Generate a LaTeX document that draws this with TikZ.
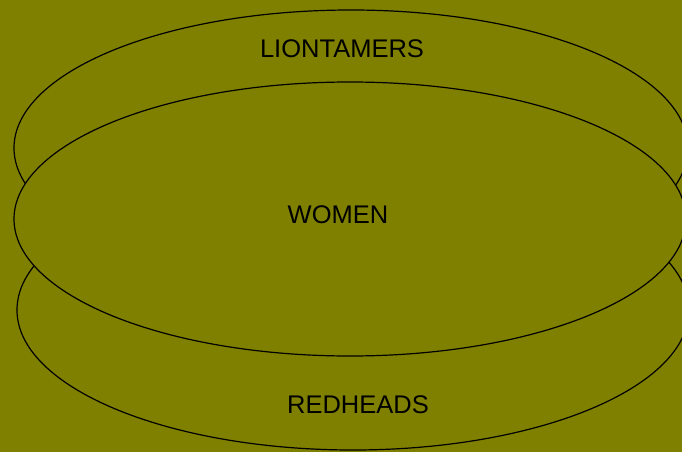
\documentclass[tikz,border=0pt]{standalone}
\usepackage{fontspec}
\setmainfont{Liberation Sans}
\definecolor{olivebg}{HTML}{808000}
\begin{document}
\begin{tikzpicture}[x=1pt,y=-1pt,
  setshape/.style={draw=black,line width=1.2pt},
  setlabel/.style={font=\fontsize{25.5}{25.5}\selectfont,text=black,inner sep=0pt}]
\useasboundingbox (0,0) rectangle (682,452);
\fill[olivebg] (0,0) rectangle (682,452);
\clip (0,0) rectangle (682,452);
\draw[setshape] (351,148) ellipse [x radius=337, y radius=138];
\draw[setshape] (353,310) ellipse [x radius=336, y radius=140];
\filldraw[setshape,fill=olivebg] (350,219) ellipse [x radius=336, y radius=137];
\node[setlabel] (lion) at (342,49) {LIONTAMERS};
\node[setlabel] (women) at (338,215) {WOMEN};
\node[setlabel] (red) at (358,405) {REDHEADS};
\end{tikzpicture}
\end{document}
